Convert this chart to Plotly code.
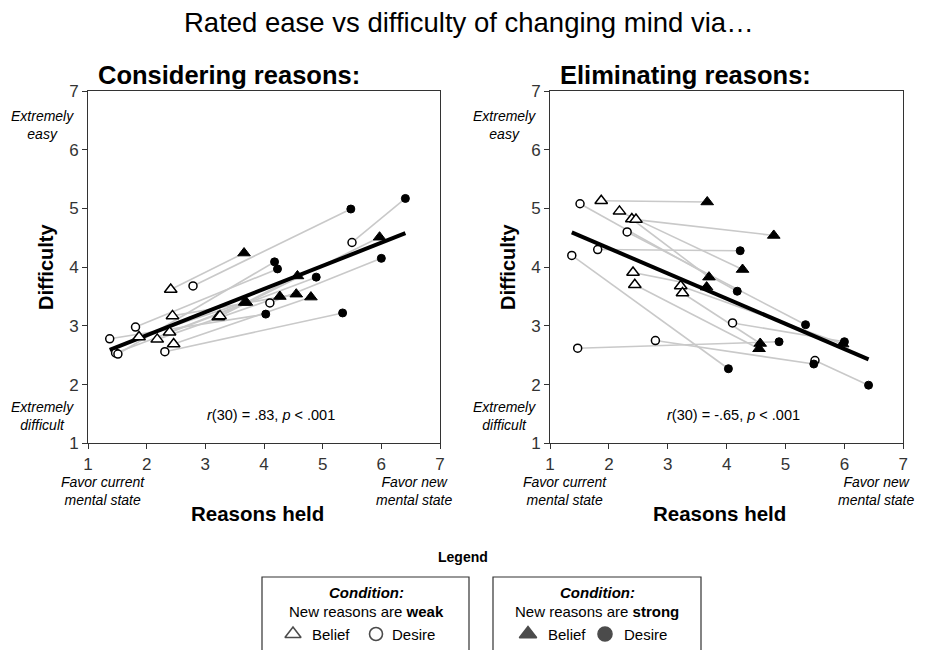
import numpy as np
import plotly.graph_objects as go

# ---------------- data (16 items: 8 belief, 8 desire) ----------------
item_type = ["Belief"] * 8 + ["Desire"] * 8
weak_x = [1.87, 2.18, 2.39, 2.41, 2.44, 2.46, 3.22, 3.25,
          1.37, 1.47, 1.51, 1.81, 2.31, 2.79, 4.10, 5.50]
strong_x = [3.67, 4.27, 3.70, 3.66, 4.55, 4.80, 5.97, 4.57,
            4.03, 4.89, 4.18, 4.23, 5.34, 5.48, 6.00, 6.41]
consider_weak_y = [2.81, 2.77, 2.89, 3.62, 3.17, 2.69, 3.15, 3.17,
                   2.78, 2.54, 2.52, 2.98, 2.56, 3.68, 3.39, 4.42]
consider_strong_y = [3.40, 3.50, 3.40, 4.24, 3.54, 3.49, 4.51, 3.85,
                     3.20, 3.83, 4.09, 3.97, 3.22, 4.99, 4.15, 5.17]
elim_weak_y = [5.13, 4.95, 4.82, 3.91, 3.70, 4.81, 3.68, 3.56,
               4.20, 2.62, 5.08, 4.30, 4.60, 2.75, 3.05, 2.41]
elim_strong_y = [5.11, 3.96, 3.83, 3.66, 2.61, 4.54, 2.69, 2.70,
                 2.27, 2.73, 3.59, 4.28, 3.02, 2.35, 2.73, 1.99]

panel_titles = ["Considering reasons:", "Eliminating reasons:"]
r_labels = ["<i>r</i>(30) = .83, <i>p</i> < .001", "<i>r</i>(30) = -.65, <i>p</i> < .001"]
tick_vals = [1, 2, 3, 4, 5, 6, 7]

# page has an 8px body margin; the figure fills the rest of the 925x650 window
OX, OY = 8, 8
W, H = 925 - OX, 650 - OY
FONT = "Helvetica, Arial, Liberation Sans, sans-serif"


def px(x):
    return (x - OX) / W


def py(y):
    return 1 - (y - OY) / H


fig = go.Figure()

panels = [
    ("x", "y", consider_weak_y, consider_strong_y),
    ("x2", "y2", elim_weak_y, elim_strong_y),
]

for xa, ya, wy, sy in panels:
    # connecting lines (weak -> strong for each item)
    lx, ly = [], []
    for i in range(len(weak_x)):
        lx += [weak_x[i], strong_x[i], None]
        ly += [wy[i], sy[i], None]
    fig.add_trace(go.Scatter(x=lx, y=ly, mode="lines", xaxis=xa, yaxis=ya,
                             line=dict(color="#c9c9c9", width=1.6),
                             hoverinfo="skip", showlegend=False))
    # regression line
    allx = np.array(weak_x + strong_x)
    ally = np.array(wy + sy)
    b, a = np.polyfit(allx, ally, 1)
    fx = np.array([allx.min(), allx.max()])
    fig.add_trace(go.Scatter(x=fx, y=a + b * fx, mode="lines", xaxis=xa, yaxis=ya,
                             line=dict(color="black", width=4),
                             hoverinfo="skip", showlegend=False))
    # markers
    for kind, sym, size in [("Belief", "triangle-up", 11), ("Desire", "circle", 8)]:
        idx = [i for i, t in enumerate(item_type) if t == kind]
        fig.add_trace(go.Scatter(
            x=[weak_x[i] for i in idx], y=[wy[i] for i in idx], mode="markers",
            xaxis=xa, yaxis=ya, showlegend=False,
            marker=dict(symbol=sym, size=size, color="white",
                        line=dict(color="black", width=1.5))))
        fig.add_trace(go.Scatter(
            x=[strong_x[i] for i in idx], y=[sy[i] for i in idx], mode="markers",
            xaxis=xa, yaxis=ya, showlegend=False,
            marker=dict(symbol=sym, size=size, color="black",
                        line=dict(color="black", width=1))))

# legend glyphs on an invisible axis spanning the page
leg_x = [293, 376, 528, 605]
leg_y = [634, 634, 634, 634]
leg_sym = ["triangle-up", "circle", "triangle-up", "circle"]
leg_fill = ["white", "white", "black", "black"]
leg_size = [14, 13, 15, 14]
fig.add_trace(go.Scatter(
    x=[px(v) for v in leg_x], y=[py(v) for v in leg_y], mode="markers",
    xaxis="x3", yaxis="y3", showlegend=False, hoverinfo="skip", cliponaxis=False,
    marker=dict(symbol=leg_sym, size=leg_size, color=leg_fill,
                line=dict(color="black", width=1.6))))

axis_common = dict(range=[1, 7], tickvals=tick_vals, ticks="outside", ticklen=5,
                   tickcolor="#333", showline=True, linecolor="#333", linewidth=1,
                   mirror=True, showgrid=False, zeroline=False, automargin=False,
                   tickfont=dict(family=FONT, size=17, color="#333"))

fig.update_layout(
    template="none",
    width=W, height=H, margin=dict(l=0, r=0, t=0, b=0, pad=0), autosize=False,
    paper_bgcolor="white", plot_bgcolor="rgba(0,0,0,0)",
    xaxis=dict(domain=[px(88), px(440)], anchor="y", **axis_common),
    yaxis=dict(domain=[py(443.3), py(91)], anchor="x", **axis_common),
    xaxis2=dict(domain=[px(550), px(903.3)], anchor="y2", **axis_common),
    yaxis2=dict(domain=[py(443.3), py(91)], anchor="x2", **axis_common),
    xaxis3=dict(domain=[0, 1], range=[0, 1], anchor="y3", visible=False, automargin=False),
    yaxis3=dict(domain=[0, 1], range=[0, 1], anchor="x3", visible=False, automargin=False),
    showlegend=False,
)

ann = []


def add_text(x, y, text, size, bold=False, italic=False, xanchor="center", angle=0):
    if bold:
        text = "<b>" + text + "</b>"
    if italic:
        text = "<i>" + text + "</i>"
    ann.append(dict(x=px(x), y=py(y), xref="paper", yref="paper", text=text,
                    showarrow=False, xanchor=xanchor, yanchor="middle", textangle=angle,
                    font=dict(family=FONT, size=size, color="black")))


add_text(469, 23, "Rated ease vs difficulty of changing mind via…", 27.5)

for off, title, rlab in [(0, panel_titles[0], r_labels[0]), (462, panel_titles[1], r_labels[1])]:
    add_text(96 + off, 75, title, 25.5, bold=True, xanchor="left")
    add_text(46 + off, 267, "Difficulty", 20, bold=True, angle=-90)
    add_text(42 + off, 125, "Extremely<br>easy", 14, italic=True)
    add_text(42 + off, 416, "Extremely<br>difficult", 14, italic=True)
    add_text(103 + off, 491, "Favor current<br>mental state", 14, italic=True)
    add_text(414 + off, 491, "Favor new<br>mental state", 14, italic=True)
    add_text(257 + off, 513, "Reasons held", 20.5, bold=True)
    add_text(271 + off, 415, rlab, 14.5)

add_text(463, 557, "Legend", 14, bold=True)
for cx, word in [(366, "weak"), (597, "strong")]:
    add_text(cx, 592, "Condition:", 15, bold=True, italic=True)
    add_text(cx, 611, "New reasons are <b>" + word + "</b>", 15)
add_text(310, 634, "Belief", 15, xanchor="left")
add_text(390, 634, "Desire", 15, xanchor="left")
add_text(546, 634, "Belief", 15, xanchor="left")
add_text(622, 634, "Desire", 15, xanchor="left")

fig.update_layout(annotations=ann)

shapes = []
for x0, x1 in [(262, 469), (493, 701)]:
    shapes.append(dict(type="rect", xref="paper", yref="paper",
                       x0=px(x0), x1=px(x1), y0=-0.05, y1=py(577),
                       line=dict(color="#333", width=1.2), fillcolor="rgba(0,0,0,0)"))
fig.update_layout(shapes=shapes)

fig.write_html("out.html")
